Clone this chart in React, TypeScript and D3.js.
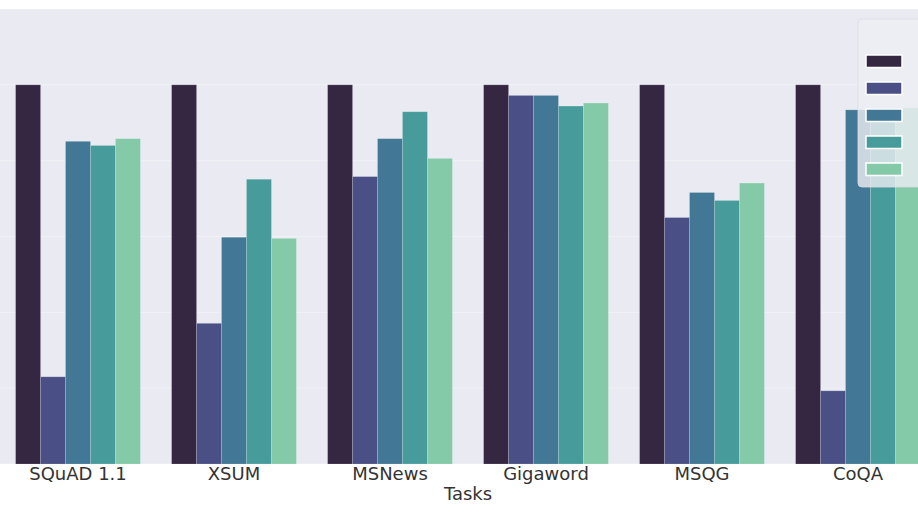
import React from "react";
import * as d3 from "d3";

const categories = ["SQuAD 1.1", "XSUM", "MSNews", "Gigaword", "MSQG", "CoQA"];
const seriesNames = ["Series 1", "Series 2", "Series 3", "Series 4", "Series 5"];
const seriesColors = ["#352742", "#4a5085", "#427895", "#479c9b", "#84caa9"];
const series1 = [1.0, 1.0, 1.0, 1.0, 1.0, 1.0];
const series2 = [0.23, 0.371, 0.758, 0.972, 0.65, 0.193];
const series3 = [0.851, 0.598, 0.858, 0.972, 0.716, 0.934];
const series4 = [0.84, 0.751, 0.929, 0.944, 0.695, 0.939];
const series5 = [0.858, 0.595, 0.806, 0.952, 0.741, 0.939];
const yTicks = [0, 0.2, 0.4, 0.6, 0.8, 1.0, 1.2];
const xTitle = "Tasks";

const allSeries = [series1, series2, series3, series4, series5];

export default function App() {
  const W = 918;
  const H = 517;
  const left = 0;
  const right = 936;
  const top = 9;
  const bottom = 464;

  const x = d3.scaleBand<string>().domain(categories).range([left, right]).padding(0);
  const groupW = x.bandwidth() * 0.8;
  const xi = d3
    .scaleBand<string>()
    .domain(seriesNames)
    .range([0, groupW])
    .padding(0);
  const y = d3.scaleLinear().domain([0, 1.2]).range([bottom, top]);

  const font = "'DejaVu Sans', sans-serif";

  return (
    <svg
      width={W}
      height={H}
      style={{ position: "absolute", left: 0, top: 0, background: "#fff" }}
      fontFamily={font}
    >
      <rect x={left} y={top} width={right - left} height={bottom - top} fill="#eaeaf2" />
      {yTicks.map((t) => (
        <line
          key={t}
          x1={left}
          x2={right}
          y1={y(t)}
          y2={y(t)}
          stroke="#ffffff"
          strokeOpacity={0.35}
          strokeWidth={1}
        />
      ))}
      {categories.map((c, ci) => {
        const gx = (x(c) ?? 0) + (x.bandwidth() - groupW) / 2;
        return (
          <g key={c}>
            {allSeries.map((s, si) => (
              <rect
                key={si}
                x={gx + (xi(seriesNames[si]) ?? 0)}
                y={y(s[ci])}
                width={xi.bandwidth()}
                height={y(0) - y(s[ci])}
                fill={seriesColors[si]}
                stroke="#ffffff"
                strokeOpacity={0.2}
                strokeWidth={0.8}
              />
            ))}
          </g>
        );
      })}
      {categories.map((c) => (
        <text
          key={c}
          x={(x(c) ?? 0) + x.bandwidth() / 2}
          y={480}
          textAnchor="middle"
          fontSize={18}
          fill="#333333"
        >
          {c}
        </text>
      ))}
      <text
        x={(left + right) / 2}
        y={499.5}
        textAnchor="middle"
        fontSize={18}
        fill="#333333"
      >
        {xTitle}
      </text>
      {/* Legend */}
      <g>
        <rect
          x={858}
          y={19}
          width={120}
          height={168}
          rx={4}
          fill="#eeeef4"
          fillOpacity={0.8}
          stroke="#dcdce2"
          strokeOpacity={0.8}
          strokeWidth={1}
        />
        {seriesNames.map((n, i) => (
          <rect
            key={n}
            x={866}
            y={55 + i * 27}
            width={36}
            height={12.5}
            fill={seriesColors[i]}
            stroke="#ffffff"
            strokeWidth={1.5}
          />
        ))}
      </g>
    </svg>
  );
}
